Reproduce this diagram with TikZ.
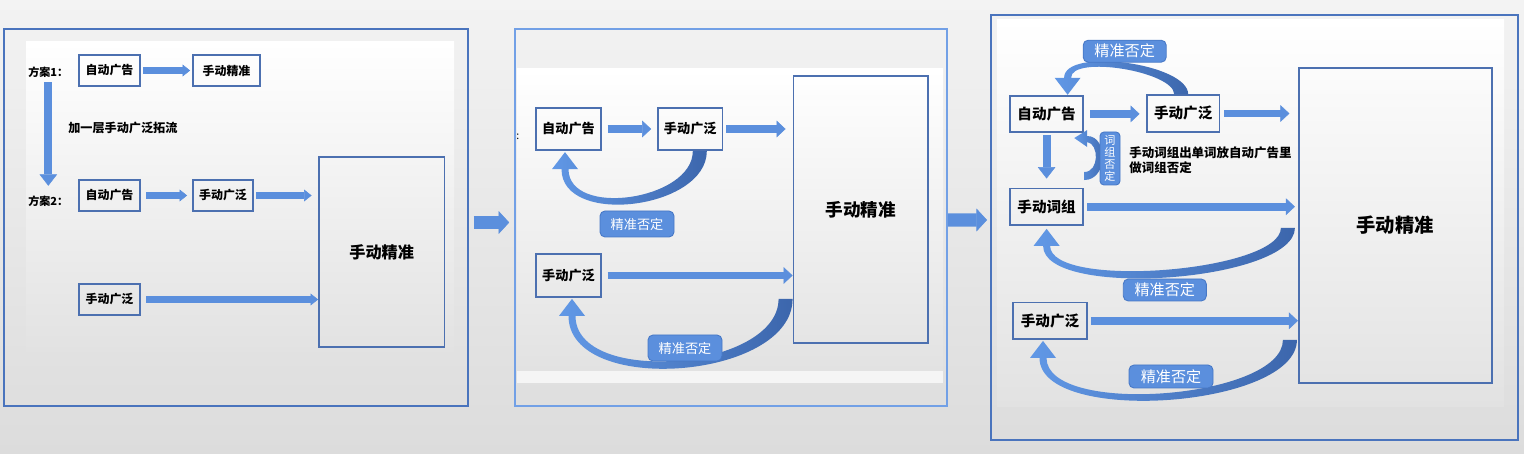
\documentclass[tikz,border=0pt]{standalone}
\usepackage{fontspec}
\setmainfont{Noto Sans CJK SC}
\usetikzlibrary{arrows.meta}
\usetikzlibrary{calc}
\usetikzlibrary{positioning}
\definecolor{bgtop}{HTML}{F3F3F3}
\definecolor{bgbottom}{HTML}{DCDCDC}
\definecolor{innerbottom}{HTML}{E2E2E2}
\definecolor{framblue}{HTML}{4A74BD}
\definecolor{framlight}{HTML}{72A0E6}
\definecolor{boxline}{HTML}{4C70B0}
\definecolor{arrowfill}{HTML}{5B8FDD}
\definecolor{curvelight}{HTML}{6198E6}
\definecolor{curvedark}{HTML}{3C66AC}
\definecolor{tagfill}{HTML}{5B8FDD}
\definecolor{tagline}{HTML}{4778C6}
\newcommand{\fsz}[1]{\fontsize{#1pt}{#1pt}\selectfont}
\tikzset{panel/.style = {draw=framblue, line width=1.1pt, inner sep=0pt}}
\tikzset{box/.style = {draw=boxline, line width=1pt, inner sep=0pt, text=black}}
\tikzset{tag/.style = {fill=tagfill, draw=tagline, line width=0.5pt, rounded corners=1mm, text=white, inner sep=0pt}}
\tikzset{curveshade/.style = {left color=curvelight, right color=curvedark}}
\tikzset{flowsmall/.style = {draw=arrowfill, line width=3.7pt, -{Triangle[width=6.8pt, length=4.3pt, line width=0.3pt]}}}
\tikzset{flow/.style = {draw=arrowfill, line width=4.5pt, -{Triangle[width=9.5pt, length=5.1pt, line width=0.3pt]}}}
\tikzset{flowdown/.style = {draw=arrowfill, line width=4.5pt, -{Triangle[width=10pt, length=6.5pt, line width=0.3pt]}}}
\tikzset{flowbig/.style = {draw=arrowfill, line width=7.4pt, -{Triangle[width=13pt, length=6pt, line width=0.3pt]}}}
% curved arrow back from tail #1 to tip #2, outer/inner depth #3/#4, #5 = 1 below, -1 above
\newcommand{\loopback}[5]{%
  \coordinate (lbT) at #1;
  \coordinate (lbH) at #2;
  \shade[curveshade] ($(lbT)+(7,0)$) .. controls ($(lbT)+(7,{#5*#3})$) and ($(lbH)+(-3.5,{#5*(#3+17)})$) .. ($(lbH)+(-3.5,{#5*17})$)
    -- ($(lbH)+(-13,{#5*17})$) -- (lbH) -- ($(lbH)+(13,{#5*17})$) -- ($(lbH)+(3.5,{#5*17})$)
    .. controls ($(lbH)+(3.5,{#5*(#4+17)})$) and ($(lbT)+(-7,{#5*#4})$) .. ($(lbT)+(-7,0)$) -- cycle;
}

\begin{document}
\begin{tikzpicture}[x=0.2mm, y=-0.2mm]
  \useasboundingbox (0,0) rectangle (1524,454);
  \shade[top color=bgtop, bottom color=bgbottom] (0,0) rectangle (1524,454);

  % panel 1
  \shade[top color=white, bottom color=innerbottom] (26,42) rectangle (454,352);
  \node[panel, minimum width=92.8mm, minimum height=75.4mm] (f1) at (236,217.5) {};
  \node[anchor=west, inner sep=0pt, font=\fsz{6.3}\bfseries] (p1plan1) at (28,72) {方案1：};
  \node[anchor=west, inner sep=0pt, font=\fsz{6.3}\bfseries] (p1plan2) at (28,201) {方案2：};
  \node[anchor=west, inner sep=0pt, font=\fsz{6.9}\bfseries] (p1note) at (68,128) {加一层手动广泛拓流};
  \node[box, font=\fsz{6.8}\bfseries, minimum width=12.2mm, minimum height=6.2mm] (p1auto) at (109.5,70.5) {自动广告};
  \node[box, font=\fsz{6.8}\bfseries, minimum width=13.4mm, minimum height=6.2mm] (p1exact) at (226.5,70.5) {手动精准};
  \node[box, font=\fsz{6.8}\bfseries, minimum width=12.2mm, minimum height=6.2mm] (p1auto2) at (109.5,195.5) {自动广告};
  \node[box, font=\fsz{6.8}\bfseries, minimum width=12mm, minimum height=6.2mm] (p1broad) at (223,195.5) {手动广泛};
  \node[box, font=\fsz{6.8}\bfseries, minimum width=12.2mm, minimum height=6.2mm] (p1broad2) at (109.5,299.5) {手动广泛};
  \node[box, font=\fsz{9.2}\bfseries, minimum width=25.1mm, minimum height=37.9mm] (p1big) at (381.7,252) {手动精准};
  \draw[flowdown, shorten <=0.9mm, shorten >=1.9mm] (p1plan1.south) -- (p1plan2.north);
  \draw[flowsmall, shorten <=0.4mm, shorten >=0.4mm] (p1auto.east) -- (p1auto.east -| p1exact.west);
  \draw[flowsmall, shorten <=1.1mm, shorten >=1mm] (p1auto2.east) -- (p1auto2.east -| p1broad.west);
  \draw[flowsmall, shorten <=0.5mm, shorten >=1.3mm] (p1broad.east) -- (p1broad.east -| p1big.west);
  \draw[flowsmall, shorten <=1.1mm] (p1broad2.east) -- (p1broad2.east -| p1big.west);

  % panel 2
  \shade[top color=white, bottom color=innerbottom] (517,69) rectangle (943,371);
  \fill[white!96!black] (517,371) rectangle (943,383);
  \node[panel, draw=framlight, line width=0.9pt, minimum width=86.4mm, minimum height=75.4mm] (f2) at (731,217.5) {};
  \node[anchor=west, inner sep=0pt, font=\fsz{6}] (p2colon) at (516,137) {:};
  \node[box, font=\fsz{7.5}\bfseries, minimum width=13.1mm, minimum height=8.5mm] (p2auto) at (568.5,129) {自动广告};
  \node[box, font=\fsz{7.5}\bfseries, minimum width=12.9mm, minimum height=8.5mm] (p2broad) at (690.3,129) {手动广泛};
  \node[box, font=\fsz{7.5}\bfseries, minimum width=13.1mm, minimum height=8.6mm] (p2broad2) at (568.5,275.5) {手动广泛};
  \node[box, font=\fsz{10}\bfseries, minimum width=26.9mm, minimum height=53.5mm] (p2big) at (860.7,209.5) {手动精准};
  \loopback{($(p2broad.south)+(9.5,0)$)}{($(p2auto.south)+(-3.5,1)$)}{58}{49}{1}
  \loopback{($(p2big.west |- p2broad2.south)+(-7,1)$)}{($(p2broad2.south)+(3.5,1)$)}{81}{71}{1}
  \node[tag, font=\fsz{7.5}, minimum width=14.8mm, minimum height=5.2mm] (p2neg) at (637,224) {精准否定};
  \node[tag, font=\fsz{7.5}, minimum width=14.8mm, minimum height=5.2mm] (p2neg2) at (685,348) {精准否定};
  \draw[flow, shorten <=1.1mm, shorten >=1.2mm] (p2auto.east) -- (p2auto.east -| p2broad.west);
  \draw[flow, shorten <=0.6mm, shorten >=1.4mm] (p2broad.east) -- (p2broad.east -| p2big.west);
  \draw[flow, shorten <=1.1mm] (p2broad2.east) -- (p2broad2.east -| p2big.west);

  % panel 3
  \shade[top color=white, bottom color=innerbottom] (997,20) rectangle (1504,407);
  \node[panel, minimum width=105.4mm, minimum height=85.1mm] (f3) at (1254.5,227.3) {};
  \node[box, font=\fsz{8.3}\bfseries, minimum width=14.7mm, minimum height=7.3mm] (p3auto) at (1046.6,113.9) {自动广告};
  \node[box, font=\fsz{8.3}\bfseries, minimum width=14.5mm, minimum height=7.3mm] (p3broad) at (1183.2,113.5) {手动广泛};
  \node[box, font=\fsz{8.3}\bfseries, minimum width=14.7mm, minimum height=7.3mm] (p3phrase) at (1046.6,206.7) {手动词组};
  \node[box, font=\fsz{8.3}\bfseries, minimum width=14.8mm, minimum height=7.3mm] (p3broad2) at (1050,320.8) {手动广泛};
  \node[box, font=\fsz{11}\bfseries, minimum width=38.6mm, minimum height=62.9mm] (p3big) at (1395.3,225.5) {手动精准};
  \loopback{($(p3broad.north)+(-2,0)$)}{($(p3auto.north)+(21,0)$)}{31}{23}{-1}
  \loopback{($(p3big.west |- p3phrase.south)+(-10,2)$)}{($(p3phrase.south)+(0,3)$)}{54}{44}{1}
  \loopback{($(p3big.west |- p3broad2.south)+(-8,0)$)}{($(p3broad2.south)+(-7,1)$)}{68}{59}{1}
  \coordinate (p3kink) at (p3auto.south east);
  \shade[curveshade] ($(p3kink)+(0,47)$) .. controls ($(p3kink)+(24,47)$) and ($(p3kink)+(24,3)$) .. ($(p3kink)+(3,3)$)
    -- ($(p3kink)+(3,-3)$) -- ($(p3kink)+(-10,5)$) -- ($(p3kink)+(3,14)$) -- ($(p3kink)+(3,9)$)
    .. controls ($(p3kink)+(15,11)$) and ($(p3kink)+(15,39)$) .. ($(p3kink)+(0,39)$) -- cycle;
  \node[tag, font=\fsz{8.6}, minimum width=16.6mm, minimum height=4.4mm] (p3neg) at (1124.7,51.2) {精准否定};
  \node[tag, font=\fsz{8.6}, minimum width=16.6mm, minimum height=4.4mm] (p3neg2) at (1164.8,290) {精准否定};
  \node[tag, font=\fsz{8.6}, minimum width=16.8mm, minimum height=4.6mm] (p3neg3) at (1171,376.5) {精准否定};
  \node[tag, rounded corners=0.8mm, align=center, font=\fontsize{6.3pt}{6.8pt}\selectfont, minimum width=4mm, minimum height=10.6mm] (p3vneg) at (1110,158.5) {词\\组\\否\\定};
  \node[anchor=west, align=left, inner sep=0pt, font=\fontsize{7.1pt}{8.3pt}\selectfont\bfseries] (p3note) at (1129,160) {手动词组出单词放自动广告里\\做词组否定};
  \draw[flow, shorten <=1.2mm, shorten >=1.3mm] (p3auto.east) -- (p3auto.east -| p3broad.west);
  \draw[flow, shorten <=0.8mm, shorten >=1.7mm] (p3broad.east) -- (p3broad.east -| p3big.west);
  \draw[flowdown, shorten <=0.4mm, shorten >=1.8mm] (p3auto) -- (p3phrase);
  \draw[flow, shorten <=0.6mm, shorten >=0.6mm] (p3phrase.east) -- (p3phrase.east -| p3big.west);
  \draw[flow, shorten <=0.6mm] (p3broad2.east) -- (p3broad2.east -| p3big.west);

  % between panels
  \draw[flowbig] ($(f1.east)+(5,5)$) -- ($(f2.west)+(-5,5)$);
  \draw[flowbig] ($(f2.east)+(0,2.5)$) -- ($(f3.west)+(-3,-7.3)$);
\end{tikzpicture}
\end{document}
